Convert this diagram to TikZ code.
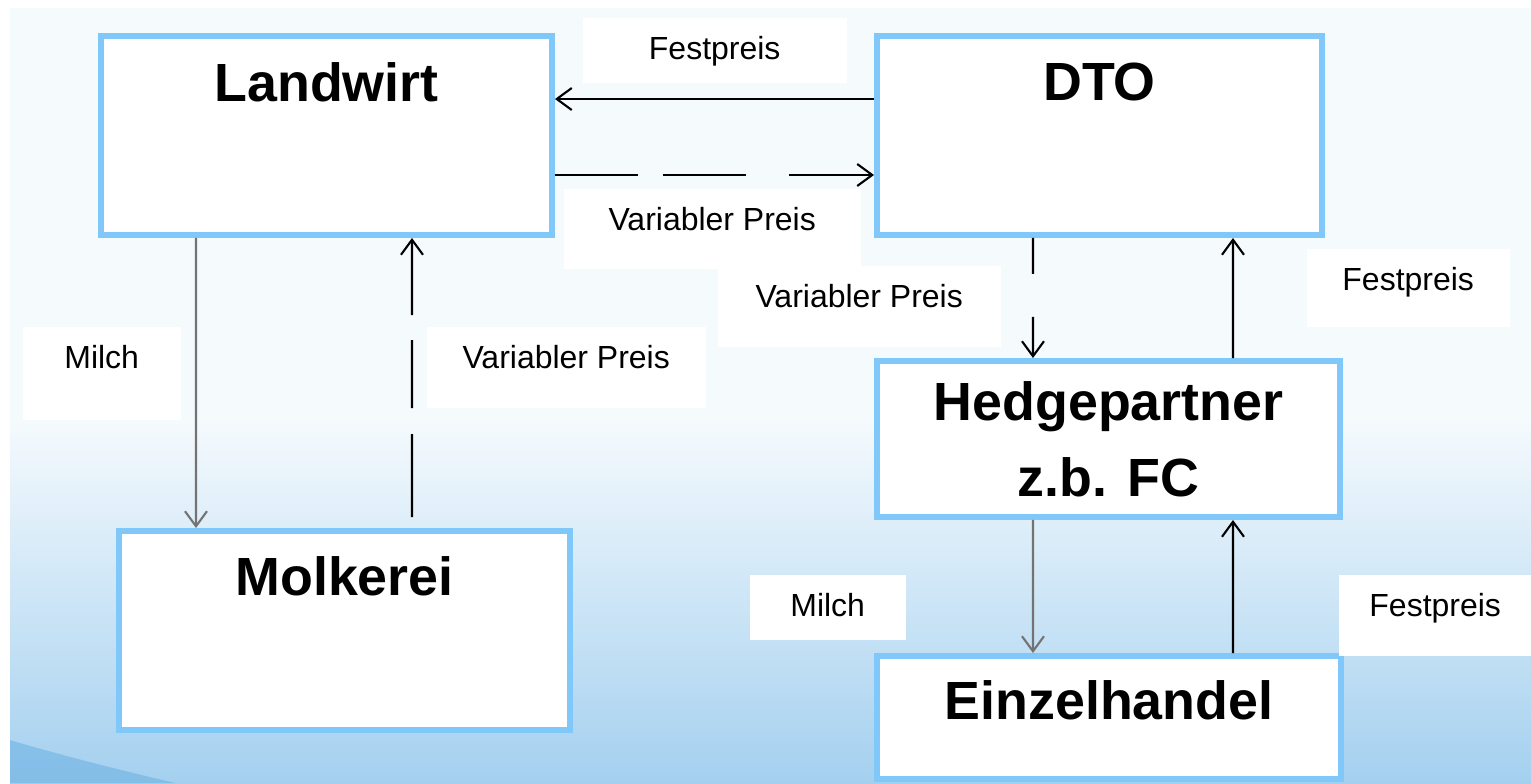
\documentclass[tikz,border=0pt]{standalone}
\usepackage{fontspec}
\setmainfont{Liberation Sans}
\usetikzlibrary{arrows.meta}
\definecolor{boxblue}{RGB}{128,200,250}
\definecolor{bgtop}{RGB}{245,250,253}
\definecolor{bgmid}{RGB}{226,240,250}
\definecolor{bgbottom}{RGB}{164,208,239}
\definecolor{swoosh}{RGB}{110,178,227}

\begin{document}
\begin{tikzpicture}[x=0.1mm, y=-0.1mm]
    \tikzstyle{party}=[rectangle, draw=boxblue, line width=1.7pt, fill=white, inner sep=0pt, anchor=north west, font=\fontsize{15.3}{21.6}\selectfont\bfseries]
    \tikzstyle{tag}=[rectangle, fill=white, inner sep=0pt, anchor=north west, text height=4.2mm, font=\fontsize{9.1}{11}\selectfont]
    \tikzstyle{flow}=[line width=0.6pt, -{Straight Barb[length=1.5mm, width=2.2mm]}]
    \tikzstyle{milk}=[flow, black!55]

    \useasboundingbox (0,0) rectangle (1531,783);
    % background
    \fill[bgtop] (10,8) rectangle (1531,420);
    \shade[top color=bgtop, middle color=bgmid, bottom color=bgbottom] (10,420) rectangle (1531,783);
    \fill[swoosh, opacity=0.6] (10,740) .. controls (60,755) and (120,770) .. (175,783) -- (10,783) -- cycle;

    % parties
    \node[party, minimum width=45.1mm, text height=6.5mm, text depth=13.4mm] (landwirt) at (98,33) {Landwirt};
    \node[party, minimum width=44.5mm, text height=6.4mm, text depth=13.5mm] (dto) at (874,33) {DTO};
    \node[party, minimum width=45.1mm, text height=6.4mm, text depth=13.5mm] (molkerei) at (116,528) {Molkerei};
    \node[party, minimum width=46.3mm, minimum height=15.6mm, align=center] (hedge) at (874,358) {Hedgepartner\\z.b. FC};
    \node[party, minimum width=46.4mm, text height=6.3mm, text depth=6.0mm] (einzel) at (874,653) {Einzelhandel};

    % labels
    \node[tag, minimum width=26.4mm, text depth=2.3mm] (fixtop) at (582,17) {Festpreis};
    \node[tag, minimum width=29.7mm, text depth=3.8mm] (vartop) at (563,188) {Variabler Preis};
    \node[tag, minimum width=28.3mm, text depth=3.9mm] (varmid) at (717,265) {Variabler Preis};
    \node[tag, minimum width=20.3mm, text depth=3.6mm] (fixright) at (1306,248) {Festpreis};
    \node[tag, minimum width=15.8mm, text depth=5.1mm] (milkleft) at (22,326) {Milch};
    \node[tag, minimum width=27.9mm, text depth=3.9mm] (varleft) at (426,326) {Variabler Preis};
    \node[tag, minimum width=15.6mm, text depth=2.3mm] (milkright) at (749,574) {Milch};
    \node[tag, minimum width=19.3mm, text depth=3.9mm] (fixlow) at (1338,574) {Festpreis};

    % flows
    \draw[flow] ([yshift=3.65mm]dto.west) -- ([yshift=3.65mm]landwirt.east);
    \draw[flow, dash pattern=on 8.3mm off 2.5mm on 8.3mm off 4.3mm on 20mm] ([yshift=-3.95mm]landwirt.east) -- ([yshift=-3.95mm]dto.west);
    \draw[milk] ([xshift=-13.05mm]landwirt.south) -- ([xshift=-14.85mm]molkerei.north);
    \draw[flow, dash pattern=on 8.3mm off 2.6mm on 6.8mm off 2.5mm on 20mm] ([xshift=6.75mm, yshift=1.1mm]molkerei.north) -- ([xshift=8.55mm]landwirt.south);
    \draw[flow, dash pattern=on 3.6mm off 4.3mm on 20mm] ([xshift=-6.65mm]dto.south) -- ([xshift=-7.55mm]hedge.north);
    \draw[flow] ([xshift=12.45mm]hedge.north) -- ([xshift=13.35mm]dto.south);
    \draw[milk] ([xshift=-7.55mm]hedge.south) -- ([xshift=-7.6mm]einzel.north);
    \draw[flow] ([xshift=12.4mm]einzel.north) -- ([xshift=12.45mm]hedge.south);

\end{tikzpicture}
\end{document}
